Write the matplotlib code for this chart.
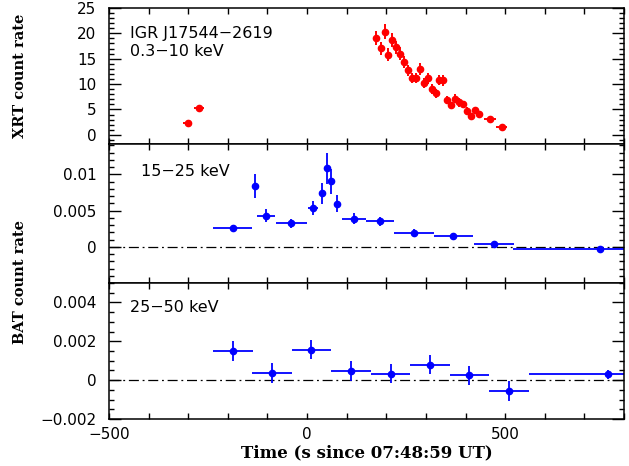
import matplotlib
matplotlib.use("Agg")
import matplotlib.pyplot as plt
from matplotlib.ticker import MultipleLocator, FixedLocator, FixedFormatter

# XRT 0.3-10 keV light curve
xrt_t = [-301, -272, 174.5, 185.5, 195.6, 204.9, 215, 225.1, 235.2, 245.4, 254.6,
         264.8, 274.9, 285, 294.3, 304.4, 314.5, 324.6, 333.9, 344, 354.1, 364.3,
         374.4, 383.6, 393.8, 403.9, 414, 424.1, 434.2, 461.2, 491.6]
xrt_terr = [11, 12.5, 5, 5, 5, 5, 5, 5, 5, 5, 5, 5, 5, 5, 5, 5, 5, 5, 5, 5, 5,
            5, 5, 5, 5, 5, 5, 5, 5, 15, 14]
xrt_rate = [2.24, 5.33, 19.08, 17.04, 20.33, 15.79, 18.75, 17.24, 15.99, 14.34, 12.70,
            11.18, 11.18, 12.96, 10.20, 11.12, 9.08, 8.16, 10.79, 10.72, 6.78, 5.79,
            7.11, 6.38, 5.99, 4.74, 3.75, 4.80, 4.14, 3.16, 1.51]
xrt_err = [0.3, 0.45, 1.35, 1.3, 1.45, 1.25, 1.35, 1.3, 1.25, 1.2, 1.1,
           1.05, 1.05, 1.15, 1.0, 1.05, 0.95, 0.9, 1.05, 1.05, 0.8, 0.75,
           0.85, 0.8, 0.75, 0.7, 0.6, 0.7, 0.65, 0.4, 0.3]

# BAT 15-25 keV
bat1_t = [-188, -131.5, -103.7, -39.6, 15.2, 37.9, 50.6, 59.9, 76.7, 118.9,
          183.8, 270.7, 369.3, 471.3, 740.3]
bat1_terr = [49.3, 3, 22, 39, 12.6, 5, 5, 5, 8, 29.5, 36, 50, 49, 50, 220]
bat1_rate = [0.00253, 0.00843, 0.00429, 0.00323, 0.00535, 0.00737, 0.01083, 0.00903,
             0.00594, 0.00387, 0.00350, 0.00189, 0.00143, 0.00032, -0.00032]
bat1_err = [0.00055, 0.00166, 0.00088, 0.00058, 0.0010, 0.0014, 0.0021, 0.0017,
            0.00115, 0.00074, 0.0006, 0.0005, 0.00046, 0.00046, 0.0003]

# BAT 25-50 keV
bat2_t = [-187.2, -88.5, 11, 111.3, 210.8, 310.3, 409.8, 509.3, 760.5]
bat2_terr = [50, 50, 50, 50, 50, 50, 50, 50, 200]
bat2_rate = [0.0015, 0.00036, 0.00157, 0.00048, 0.00033, 0.00079, 0.00024, -0.00055, 0.00029]
bat2_err = [0.0005, 0.00052, 0.0005, 0.0005, 0.0005, 0.0005, 0.0005, 0.00052, 0.00022]

# y tick positions and labels for the two BAT panels
bat1_ticks = [0, 0.005, 0.01]
bat1_ticklabels = ['0', '0.005', '0.01']
bat2_ticks = [-0.002, 0, 0.002, 0.004]
bat2_ticklabels = ['\u22120.002', '0', '0.002', '0.004']

plt.rcParams['font.family'] = ['DejaVu Sans']
plt.rcParams['axes.linewidth'] = 1.1

fig = plt.figure(figsize=(6.29, 4.66), dpi=100)
left, width = 0.1733, 0.8187
ax1 = fig.add_axes([left, 0.691, width, 0.292])
ax2 = fig.add_axes([left, 0.3927, width, 0.2983], sharex=ax1)
ax3 = fig.add_axes([left, 0.1009, width, 0.2918], sharex=ax1)

ax1.errorbar(xrt_t, xrt_rate, yerr=xrt_err, xerr=xrt_terr, fmt='o', color='red',
             ms=4.5, elinewidth=1.4, capsize=0)
ax2.errorbar(bat1_t, bat1_rate, yerr=bat1_err, xerr=bat1_terr, fmt='o', color='blue',
             ms=4.5, elinewidth=1.3, capsize=0)
ax3.errorbar(bat2_t, bat2_rate, yerr=bat2_err, xerr=bat2_terr, fmt='o', color='blue',
             ms=4.5, elinewidth=1.3, capsize=0)

for ax in (ax2, ax3):
    ax.axhline(0, color='black', lw=0.9, ls=(0, (8, 3, 1.5, 3)), zorder=0)

ax1.set_xlim(-500, 800)
ax1.set_ylim(-1.8, 25)
ax2.set_ylim(-0.005, 0.0142)
ax3.set_ylim(-0.002, 0.005)

ax1.yaxis.set_major_locator(MultipleLocator(5))
ax1.yaxis.set_minor_locator(MultipleLocator(1))
ax2.yaxis.set_major_locator(FixedLocator(bat1_ticks))
ax2.yaxis.set_major_formatter(FixedFormatter(bat1_ticklabels))
ax2.yaxis.set_minor_locator(MultipleLocator(0.001))
ax3.yaxis.set_major_locator(FixedLocator(bat2_ticks))
ax3.yaxis.set_major_formatter(FixedFormatter(bat2_ticklabels))
ax3.yaxis.set_minor_locator(MultipleLocator(0.0005))

for ax in (ax1, ax2, ax3):
    ax.xaxis.set_major_locator(MultipleLocator(500))
    ax.xaxis.set_minor_locator(MultipleLocator(100))
    ax.tick_params(which='both', direction='in', top=True, right=True, labelsize=11)
    ax.tick_params(axis='y', which='major', length=8.5, width=1, pad=9)
    ax.tick_params(axis='y', which='minor', length=3.8, width=1)
    ax.tick_params(axis='x', which='both', length=4, width=1, pad=6)
for ax in (ax1, ax2):
    ax.tick_params(labelbottom=False)

ax1.text(0.041, 0.78, 'IGR J17544\u22122619', transform=ax1.transAxes, fontsize=11.5)
ax1.text(0.041, 0.647, '0.3\u221210 keV', transform=ax1.transAxes, fontsize=11.5)
ax2.text(0.062, 0.77, '15\u221225 keV', transform=ax2.transAxes, fontsize=11.5)
ax3.text(0.041, 0.787, '25\u221250 keV', transform=ax3.transAxes, fontsize=11.5)

lab = dict(family='DejaVu Serif', fontweight='bold', fontsize=10.5)
fig.text(0.032, 0.838, 'XRT count rate', rotation=90, ha='center', va='center', **lab)
fig.text(0.032, 0.395, 'BAT count rate', rotation=90, ha='center', va='center', **lab)
fig.text(0.5835, 0.028, 'Time (s since 07:48:59 UT)', ha='center', va='center',
         family='DejaVu Serif', fontweight='bold', fontsize=12)

fig.savefig('out.png', dpi=100)
